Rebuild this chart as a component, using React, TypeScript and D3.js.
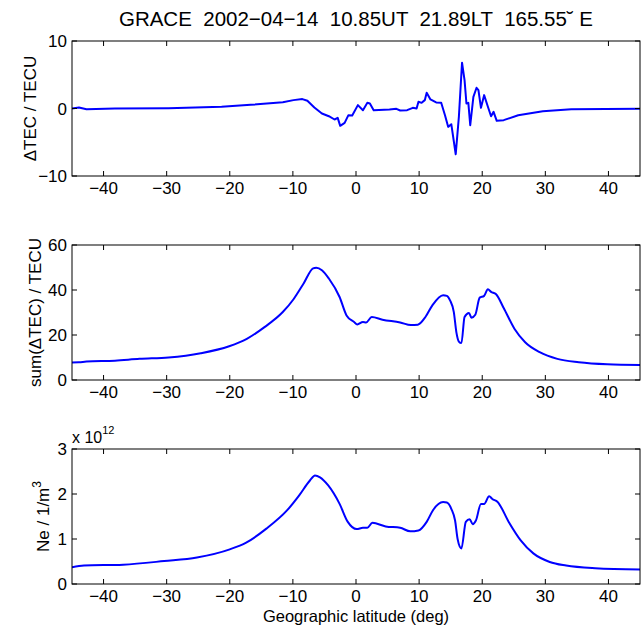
import React from 'react';
import * as d3 from 'd3';

// ---- Data ----
const latDTEC = [-45, -43.9, -42.7, -38.2, -29.7, -21.3, -16.7, -11.6, -9.9, -8.5, -7.7, -6.6, -5.4, -4.3, -3.4, -2.9, -2.5, -1.8, -1.2, -0.6, 0.3, 1.1, 1.8, 2.2, 2.8, 5.3, 6.4, 7.0, 8.1, 9.0, 9.6, 9.9, 10.4, 10.9, 11.2, 11.8, 12.7, 13.5, 14.1, 14.6, 15.1, 15.8, 16.3, 16.8, 17.2, 17.5, 17.8, 18.1, 18.6, 19.1, 19.4, 19.8, 20.3, 20.9, 21.4, 21.8, 22.3, 23.4, 25.7, 29.6, 34.1, 45];
const dTEC = [0.0, 0.15, -0.1, 0.0, 0.05, 0.25, 0.54, 0.94, 1.24, 1.39, 1.14, 0.15, -0.74, -1.14, -1.63, -1.39, -2.57, -2.13, -0.99, -1.04, 0.5, -0.25, 0.84, 0.74, -0.25, -0.15, -0.05, -0.3, -0.25, 0.1, 0.0, 1.0, 0.84, 1.24, 2.33, 1.34, 0.89, 0.84, -0.99, -2.72, -2.33, -6.78, -1.24, 6.78, 4.2, 0.74, 0.84, -2.48, 1.73, 3.07, 2.72, 0.1, 1.98, 0.25, -1.14, -0.5, -1.83, -1.73, -0.99, -0.4, -0.1, -0.05];

const latSum = [-45, -43.9, -42.7, -38.2, -34.3, -29.7, -24.6, -20.1, -17.3, -14.5, -11.6, -9.9, -8.3, -6.8, -6.3, -5.4, -4.3, -2.6, -1.5, -0.3, 0.2, 1.1, 1.6, 2.5, 4.2, 7.0, 8.7, 9.8, 11.0, 12.1, 13.8, 14.4, 14.9, 15.5, 15.9, 16.3, 16.7, 17.2, 17.9, 18.3, 18.9, 19.6, 20.3, 20.9, 21.4, 22.2, 23.4, 25.1, 26.8, 29.1, 31.9, 35.3, 39.8, 45];
const sumTEC = [7.8, 7.9, 8.2, 8.6, 9.4, 10.0, 11.9, 15.0, 18.3, 23.5, 30.2, 35.9, 42.9, 49.6, 49.9, 48.8, 45.1, 36.9, 28.7, 25.8, 24.7, 25.8, 25.6, 28.0, 26.8, 25.6, 24.4, 24.6, 28.0, 33.2, 37.7, 37.4, 35.4, 30.2, 21.3, 17.1, 16.4, 28.0, 29.8, 27.7, 29.0, 36.6, 37.4, 40.3, 39.2, 38.1, 32.0, 22.8, 16.8, 12.4, 9.4, 7.9, 7.0, 6.7];

const latNe = [-45, -43.1, -36.9, -30.4, -25.2, -20.0, -17.4, -14.2, -10.9, -9.0, -7.3, -6.5, -5.7, -4.4, -2.6, -1.3, 0.1, 1.1, 1.8, 2.6, 4.7, 7.0, 8.6, 9.9, 11.2, 12.2, 13.8, 14.4, 15.1, 15.7, 16.1, 16.7, 17.4, 18.0, 18.5, 19.0, 19.8, 20.3, 21.1, 21.6, 22.4, 24.2, 26.1, 28.1, 30.7, 33.3, 37.9, 45];
const neVal = [0.37, 0.41, 0.43, 0.51, 0.59, 0.77, 0.92, 1.23, 1.64, 1.97, 2.30, 2.41, 2.37, 2.19, 1.78, 1.38, 1.22, 1.25, 1.25, 1.36, 1.28, 1.25, 1.17, 1.19, 1.38, 1.64, 1.82, 1.81, 1.67, 1.41, 1.0, 0.79, 1.38, 1.44, 1.33, 1.41, 1.78, 1.78, 1.95, 1.89, 1.83, 1.38, 0.97, 0.68, 0.49, 0.41, 0.35, 0.32];

const xTicks = [-40, -30, -20, -10, 0, 10, 20, 30, 40];
const dtecTicks = [-10, 0, 10];
const sumTicks = [0, 20, 40, 60];
const neTicks = [0, 1, 2, 3];

const FONT = '"Liberation Sans", Arial, Helvetica, sans-serif';
const LEFT = 72;
const RIGHT = 640;
const PH = 135;
const TICK = 5;
const FS = 17;

const fmt = (v: number) => (v < 0 ? '\u2212' + Math.abs(v) : String(v));

type PanelProps = {
  top: number;
  lat: number[];
  vals: number[];
  domain: [number, number];
  yTicks: number[];
  curve: d3.CurveFactory;
};

function Panel({ top, lat, vals, domain, yTicks, curve }: PanelProps) {
  const x = d3.scaleLinear().domain([-45, 45]).range([LEFT, RIGHT]);
  const y = d3.scaleLinear().domain(domain).range([top + PH, top]);
  const pts = lat.map((l, i) => [l, vals[i]] as [number, number]);
  const line = d3.line<[number, number]>().x(d => x(d[0])).y(d => y(d[1])).curve(curve);
  const bottom = top + PH;
  return (
    <g>
      <rect x={LEFT} y={top} width={RIGHT - LEFT} height={PH} fill="#fff" />
      <defs>
        <clipPath id={`clip${top}`}>
          <rect x={LEFT} y={top} width={RIGHT - LEFT} height={PH} />
        </clipPath>
      </defs>
      <path d={line(pts) || ''} fill="none" stroke="#0000ff" strokeWidth={2} strokeLinejoin="round" clipPath={`url(#clip${top})`} />
      {xTicks.map(t => (
        <g key={`x${t}`}>
          <line x1={x(t)} x2={x(t)} y1={bottom} y2={bottom - TICK} stroke="#000" strokeWidth={1} />
          <line x1={x(t)} x2={x(t)} y1={top} y2={top + TICK} stroke="#000" strokeWidth={1} />
          <text x={x(t)} y={bottom + 18} textAnchor="middle" fontSize={FS} fontFamily={FONT}>{fmt(t)}</text>
        </g>
      ))}
      {yTicks.map(t => (
        <g key={`y${t}`}>
          <line x1={LEFT} x2={LEFT + TICK} y1={y(t)} y2={y(t)} stroke="#000" strokeWidth={1} />
          <line x1={RIGHT} x2={RIGHT - TICK} y1={y(t)} y2={y(t)} stroke="#000" strokeWidth={1} />
          <text x={LEFT - 5} y={y(t) + 6} textAnchor="end" fontSize={FS} fontFamily={FONT}>{fmt(t)}</text>
        </g>
      ))}
      <rect x={LEFT} y={top} width={RIGHT - LEFT} height={PH} fill="none" stroke="#000" strokeWidth={1} />
    </g>
  );
}

export default function App() {
  const tops = [41, 245, 449];
  const mid = (LEFT + RIGHT) / 2;
  return (
    <svg width={644} height={627} style={{ position: 'absolute', left: 0, top: 0, background: '#fff' }}>
      <rect width={644} height={627} fill="#fff" />
      <text x={mid} y={26} textAnchor="middle" fontSize={20.5} fontFamily={FONT} style={{ whiteSpace: 'pre' }}>
        {'GRACE  2002\u221204\u221214  10.85UT  21.89LT  165.55\u02D8 E'}
      </text>
      <Panel top={tops[0]} lat={latDTEC} vals={dTEC} domain={[-10, 10]} yTicks={dtecTicks} curve={d3.curveLinear} />
      <Panel top={tops[1]} lat={latSum} vals={sumTEC} domain={[0, 60]} yTicks={sumTicks} curve={d3.curveMonotoneX} />
      <Panel top={tops[2]} lat={latNe} vals={neVal} domain={[0, 3]} yTicks={neTicks} curve={d3.curveMonotoneX} />

      <text transform={`translate(36,${tops[0] + PH / 2}) rotate(-90)`} textAnchor="middle" fontSize={FS} fontFamily={FONT}>
        {'\u0394TEC / TECU'}
      </text>
      <text transform={`translate(41,${tops[1] + PH / 2}) rotate(-90)`} textAnchor="middle" fontSize={FS} fontFamily={FONT}>
        {'sum(\u0394TEC) / TECU'}
      </text>
      <text transform={`translate(49,${tops[2] + PH / 2}) rotate(-90)`} textAnchor="middle" fontSize={FS} fontFamily={FONT}>
        {'Ne / 1/m'}
        <tspan fontSize={12} dy={-8}>3</tspan>
      </text>

      <text x={LEFT} y={443} fontSize={16} fontFamily={FONT}>
        {'x 10'}
        <tspan fontSize={11} dy={-9}>12</tspan>
      </text>

      <text x={mid} y={622} textAnchor="middle" fontSize={16.5} fontFamily={FONT}>Geographic latitude (deg)</text>
    </svg>
  );
}
